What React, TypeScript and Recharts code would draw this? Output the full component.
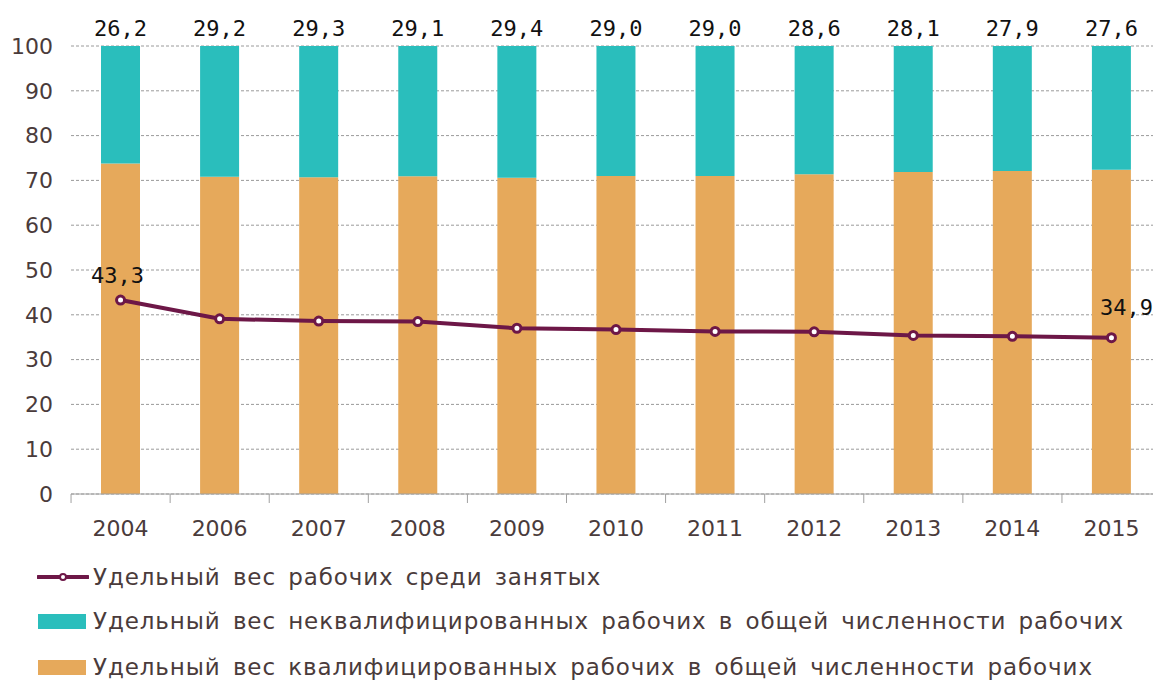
import { ComposedChart, Bar, Line, XAxis, YAxis, CartesianGrid, LabelList } from 'recharts';

const years = ['2004', '2006', '2007', '2008', '2009', '2010', '2011', '2012', '2013', '2014', '2015'];
// неквалифицированные, % от всех рабочих
const unskilled = [26.2, 29.2, 29.3, 29.1, 29.4, 29.0, 29.0, 28.6, 28.1, 27.9, 27.6];
// квалифицированные = остаток до 100
const skilled = [73.8, 70.8, 70.7, 70.9, 70.6, 71.0, 71.0, 71.4, 71.9, 72.1, 72.4];
// рабочие среди занятых, %
const workersShare = [43.3, 39.1, 38.6, 38.5, 37.0, 36.7, 36.3, 36.2, 35.4, 35.2, 34.9];
const yTicks = [0, 10, 20, 30, 40, 50, 60, 70, 80, 90, 100];

const data = years.map((year, i) => ({
  year,
  skilled: skilled[i],
  unskilled: unskilled[i],
  share: workersShare[i],
}));

const TEAL = '#2ABEBC';
const ORANGE = '#E6A95B';
const PLUM = '#6D1747';
const TEXT = '#4A3B3B';
const STEP = 99;

const fmt = (v: any) => Number(v).toFixed(1).replace('.', ',');

const YearTick = (props: any) => {
  const { x, y, payload, index } = props;
  return (
    <g>
      <line x1={x - STEP / 2} x2={x - STEP / 2} y1={y} y2={y + 9} stroke="#a0a0a0" />
      {index === years.length - 1 && (
        <line x1={x + STEP / 2} x2={x + STEP / 2} y1={y} y2={y + 9} stroke="#a0a0a0" />
      )}
      <text x={x} y={y + 42} textAnchor="middle" fontSize={22} fill={TEXT} fontFamily="DejaVu Sans">
        {payload.value}
      </text>
    </g>
  );
};

const ShareLabel = (props: any) => {
  const { x, y, value, index } = props;
  if (index === 0) {
    return (
      <text x={x - 3} y={y - 17} textAnchor="middle" fontSize={22} fill="#111" fontFamily="DejaVu Sans Mono">
        {fmt(value)}
      </text>
    );
  }
  if (index === years.length - 1) {
    return (
      <text x={x + 15} y={y - 23} textAnchor="middle" fontSize={22} fill="#111" fontFamily="DejaVu Sans Mono">
        {fmt(value)}
      </text>
    );
  }
  return null;
};

const legendText = {
  fontFamily: 'DejaVu Sans',
  fontSize: 23,
  color: TEXT,
  letterSpacing: 0.9,
  wordSpacing: 4,
  whiteSpace: 'nowrap' as const,
};

export default function App() {
  return (
    <div style={{ position: 'absolute', left: 0, top: 0, width: 1153, height: 685, overflow: 'hidden', background: '#fff' }}>
      <ComposedChart width={1161} height={550} data={data} margin={{ top: 46, right: 0, left: 0, bottom: 0 }} barCategoryGap={0}>
        <CartesianGrid vertical={false} stroke="#9a9a9a" strokeDasharray="3 2" />
        <XAxis
          dataKey="year"
          height={56}
          tickLine={false}
          tickSize={0}
          tickMargin={0}
          axisLine={{ stroke: '#a0a0a0' }}
          tick={<YearTick />}
          interval={0}
        />
        <YAxis
          width={71}
          domain={[0, 100]}
          ticks={yTicks}
          axisLine={false}
          tickLine={false}
          tickSize={0}
          tickMargin={18}
          tick={{ fontSize: 22, fill: TEXT, fontFamily: 'DejaVu Sans' }}
        />
        <Bar dataKey="skilled" stackId="a" fill={ORANGE} barSize={39} isAnimationActive={false} />
        <Bar dataKey="unskilled" stackId="a" fill={TEAL} barSize={39} isAnimationActive={false}>
          <LabelList
            dataKey="unskilled"
            position="top"
            offset={10}
            formatter={fmt}
            style={{ fontSize: 22, fill: '#111', fontFamily: 'DejaVu Sans Mono' }}
          />
        </Bar>
        <Line
          dataKey="share"
          type="linear"
          stroke={PLUM}
          strokeWidth={4}
          dot={{ r: 4, fill: '#fff', stroke: PLUM, strokeWidth: 3 }}
          activeDot={false}
          isAnimationActive={false}
          label={<ShareLabel />}
        />
      </ComposedChart>
      <div style={{ position: 'absolute', left: 37, top: 563, display: 'flex', alignItems: 'center', height: 28 }}>
        <svg width={52} height={12} style={{ marginRight: 4 }}>
          <line x1={1} x2={51} y1={6} y2={6} stroke={PLUM} strokeWidth={4} strokeLinecap="round" />
          <circle cx={26} cy={6} r={3} fill="#fff" stroke={PLUM} strokeWidth={2} />
        </svg>
        <span style={legendText}>Удельный вес рабочих среди занятых</span>
      </div>
      <div style={{ position: 'absolute', left: 38, top: 607, display: 'flex', alignItems: 'center', height: 28 }}>
        <div style={{ width: 48, height: 15, background: TEAL, marginRight: 7 }} />
        <span style={legendText}>Удельный вес неквалифицированных рабочих в общей численности рабочих</span>
      </div>
      <div style={{ position: 'absolute', left: 38, top: 653, display: 'flex', alignItems: 'center', height: 28 }}>
        <div style={{ width: 48, height: 15, background: ORANGE, marginRight: 7 }} />
        <span style={legendText}>Удельный вес квалифицированных рабочих в общей численности рабочих</span>
      </div>
    </div>
  );
}
